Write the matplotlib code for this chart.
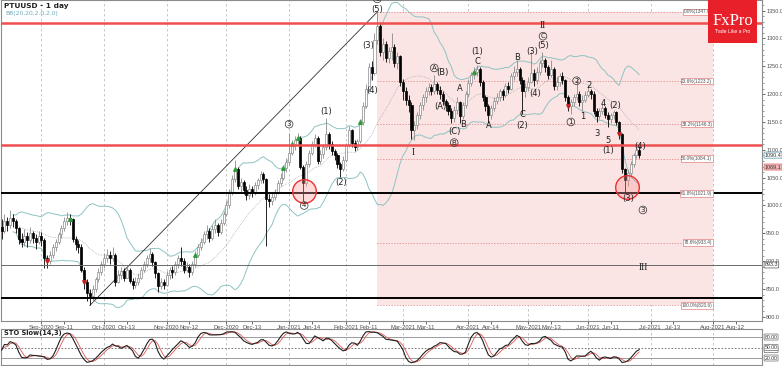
import matplotlib
matplotlib.use("Agg")
import matplotlib.pyplot as plt
import matplotlib.transforms as mtransforms
from matplotlib.patches import Rectangle
import numpy as np
import pandas as pd

# PTUUSD daily bars, 12 Aug 2020 .. 25 Jun 2021
closes = [955, 972, 965, 978, 972, 960, 940, 935, 945, 938, 950, 942, 935, 945, 938,
          905, 900, 912, 925, 935, 948, 960, 972, 978, 975, 940, 930, 925, 885, 862, 842, 838,
          850, 868, 880, 895, 905, 912, 905, 912, 862,
          875, 882, 870, 885, 865, 858, 862, 870, 885, 895, 905, 913,
          898, 878, 855, 862, 858, 875, 885, 880, 895, 905, 900, 885, 890, 880, 895, 912,
          925, 935, 948, 955, 942, 958, 965, 952, 968, 985, 1000, 1022, 1048, 1065, 1035, 1042,
          1028, 1018, 1030, 1022, 1036, 1045, 1056, 1048, 1012, 1008, 1015, 1025, 1040, 1050, 1068, 1078,
          1095, 1110, 1118, 1122, 1070, 1040, 1075, 1095, 1110, 1122, 1080, 1092, 1105, 1128, 1110, 1098,
          1090, 1074, 1065, 1082, 1108, 1135, 1112, 1105, 1115, 1150, 1178, 1210, 1248, 1238, 1298, 1322,
          1275, 1290, 1265, 1278, 1285, 1255, 1268, 1222, 1205, 1190, 1180, 1135, 1145, 1162,
          1180, 1195, 1205, 1212, 1205, 1218, 1208, 1200, 1188, 1180, 1170, 1158, 1172, 1185,
          1160, 1180, 1200, 1220, 1235, 1240, 1245, 1222, 1195, 1178, 1162, 1175, 1188, 1195, 1205,
          1198, 1215, 1210, 1232, 1240, 1245, 1225, 1205, 1212, 1222, 1238, 1225, 1240, 1255, 1262,
          1248, 1235, 1245, 1215, 1222, 1232, 1225, 1195, 1178, 1185, 1195, 1200, 1185, 1190, 1198, 1205, 1200,
          1170, 1160, 1170, 1175, 1162, 1155, 1162, 1168, 1150, 1128, 1065, 1045, 1058, 1075, 1090, 1100, 1090]
highs = [975, 985, 980, 992, 985, 975, 962, 950, 958, 952, 962, 955, 948, 955, 952,
         942, 912, 918, 930, 940, 952, 965, 980, 988, 985, 978, 945, 938, 930, 890, 868, 850,
         858, 872, 888, 900, 915, 922, 918, 925, 915,
         885, 890, 888, 892, 888, 870, 872, 878, 890, 900, 912, 924,
         916, 900, 880, 870, 868, 882, 890, 892, 900, 912, 925, 905, 898, 895, 900, 918,
         930, 942, 955, 965, 960, 965, 975, 968, 975, 990, 1008, 1030, 1055, 1082, 1070, 1050,
         1046, 1035, 1038, 1035, 1042, 1050, 1062, 1060, 1050, 1020, 1022, 1030, 1045, 1058, 1072, 1085,
         1130, 1118, 1125, 1130, 1125, 1072, 1080, 1100, 1115, 1128, 1125, 1100, 1110, 1157, 1132, 1115,
         1102, 1095, 1078, 1088, 1112, 1142, 1138, 1118, 1120, 1155, 1185, 1218, 1255, 1260, 1310, 1347.6,
         1330, 1300, 1295, 1285, 1310, 1290, 1275, 1270, 1228, 1212, 1198, 1185, 1152, 1168,
         1185, 1200, 1212, 1220, 1218, 1234, 1222, 1215, 1205, 1192, 1185, 1175, 1178, 1195,
         1188, 1185, 1205, 1228, 1240, 1248, 1252, 1248, 1225, 1198, 1182, 1180, 1195, 1202, 1210,
         1210, 1220, 1222, 1238, 1250, 1262, 1248, 1230, 1220, 1230, 1275, 1245, 1248, 1262, 1275,
         1265, 1252, 1261, 1248, 1230, 1238, 1240, 1228, 1198, 1192, 1200, 1229, 1205, 1198, 1205, 1216, 1210,
         1205, 1175, 1175, 1184, 1178, 1168, 1166, 1172, 1170, 1152, 1130, 1068, 1065, 1080, 1095, 1106, 1108]
lows = [940, 950, 955, 960, 962, 950, 930, 925, 928, 925, 932, 932, 922, 930, 928,
        888, 888, 895, 905, 918, 930, 942, 955, 965, 965, 935, 920, 915, 880, 850, 828, 820.6,
        828, 845, 862, 875, 888, 898, 895, 900, 855,
        860, 868, 865, 870, 860, 850, 852, 858, 868, 880, 890, 898,
        892, 870, 845, 850, 850, 855, 868, 870, 875, 888, 892, 878, 880, 872, 875, 890,
        908, 920, 930, 940, 935, 938, 950, 945, 948, 965, 982, 995, 1018, 1042, 1030, 1025,
        1020, 1010, 1012, 1015, 1018, 1030, 1040, 1040, 928, 998, 1000, 1010, 1020, 1035, 1045, 1060,
        1072, 1090, 1100, 1108, 1065, 1008, 1035, 1070, 1090, 1105, 1075, 1075, 1085, 1100, 1102, 1090,
        1082, 1068, 1051, 1062, 1078, 1105, 1105, 1098, 1100, 1112, 1145, 1175, 1205, 1225, 1235, 1290,
        1268, 1262, 1258, 1255, 1262, 1248, 1245, 1215, 1190, 1180, 1168, 1120, 1118, 1138,
        1155, 1172, 1185, 1198, 1198, 1200, 1200, 1192, 1180, 1170, 1162, 1148, 1150, 1165,
        1148, 1155, 1175, 1195, 1215, 1228, 1232, 1215, 1188, 1170, 1148, 1155, 1170, 1182, 1188,
        1190, 1195, 1202, 1208, 1225, 1232, 1218, 1165, 1195, 1205, 1220, 1215, 1218, 1235, 1248,
        1240, 1228, 1230, 1208, 1208, 1215, 1218, 1188, 1170, 1165, 1178, 1190, 1178, 1170, 1185, 1195, 1192,
        1165, 1150, 1155, 1165, 1158, 1141, 1148, 1155, 1145, 1120, 1058, 1022, 1035, 1052, 1070, 1085, 1086]
first_open = 962

holidays = ["2020-12-25", "2021-01-01", "2021-04-02"]
month_starts = ["2020-09-01", "2020-10-01", "2020-11-01", "2020-12-01", "2021-01-01", "2021-02-01",
                "2021-03-01", "2021-04-01", "2021-05-01", "2021-06-01", "2021-07-01", "2021-08-01"]
mid_month = ["2020-09-11", "2020-10-13", "2020-11-12", "2020-12-13", "2021-01-14", "2021-02-11",
             "2021-03-11", "2021-04-14", "2021-05-13", "2021-06-11", "2021-07-13", "2021-08-12"]

red_levels = [1328, 1108.7]
black_levels = [1022.5, 834.6]
grey_level = 893.3

fib_top, fib_bottom = 1347.6, 820.6
fib_ratios = [0.0, 23.6, 38.2, 50.0, 61.8, 78.6, 100.0]
fib_end_date = "2021-08-02"

# Elliott wave marks: text, bar, price, style (c = circled, r = roman)
waves = [("5", 132, 1371, "c"), ("(5)", 132, 1352, ""), ("(3)", 128.8, 1287, ""), ("(4)", 130.2, 1207, ""),
         ("3", 101, 1146, "c"), ("(1)", 114, 1168, ""), ("(2)", 119.3, 1042, ""), ("4", 106.3, 1000, "c"),
         ("I", 144.6, 1096, "r"), ("A", 152, 1247, "c"), ("(B)", 154.7, 1238, ""), ("(A)", 154, 1177, ""),
         ("(C)", 159, 1132, ""), ("B", 159, 1113, "c"), ("A", 161, 1210, ""), ("B", 162, 1145, ""),
         ("C", 167, 1258, ""), ("(1)", 167, 1276, ""), ("A", 171, 1143, ""), ("B", 181, 1265, ""),
         ("C", 183, 1163, ""), ("(2)", 183, 1143, ""), ("(3)", 186.3, 1276, ""), ("(4)", 187.4, 1202, ""),
         ("(5)", 190.2, 1287, ""), ("C", 190.2, 1304, "c"), ("II", 190.2, 1323, "r"),
         ("2", 202, 1224, "c"), ("1", 200, 1150, "c"), ("2", 206.3, 1216, ""), ("1", 204.2, 1159, ""),
         ("4", 211.2, 1184, ""), ("3", 209, 1130, ""), ("(2)", 215.4, 1179, ""), ("5", 213, 1116, ""),
         ("(1)", 213, 1098, ""), ("(4)", 224.2, 1106, ""), ("(3)", 220, 1012, ""), ("3", 225.3, 992, "c"),
         ("III", 225.3, 888, "r")]
circles = [(106.3, 1026), (219.6, 1033)]
up_arrows = [24, 68, 82, 99, 102, 104, 126, 166]
down_arrows = [16, 29, 199, 217]
price_tags = [("1090.4", 1090.4, "white", "#6aa9b8"), ("1069.1", 1069.1, "#f2b6b6", "#e08080"),
              ("893.3", 893.3, "white", "#707070")]

# ---------------------------------------------------------------
days = pd.bdate_range("2020-08-12", "2021-08-31")
days = days[~days.isin(pd.to_datetime(holidays))]
c = np.array(closes, float)
h = np.array(highs, float)
l = np.array(lows, float)
n = len(c)
x = np.arange(n)
o = np.r_[first_open, c[:-1]]

def bar_of(d):
    return int(days.searchsorted(pd.Timestamp(d)))

AXF = "Liberation Sans"

fig = plt.figure(figsize=(7.82, 3.66), dpi=100)
W, H = 782, 366
ax = fig.add_axes([0.6 / W, 45 / H, 761 / W, 321 / H])
sto = fig.add_axes([0.6 / W, 1 / H, 761 / W, 36 / H])

xmin, xmax = -0.35, 267.0
ax.set_xlim(xmin, xmax)
ax.set_ylim(792.6, 1369)
sto.set_xlim(xmin, xmax)
sto.set_ylim(0, 103)

for a in (ax, sto):
    for s in a.spines.values():
        s.set_color("#8c8c8c")
        s.set_linewidth(0.8)
    for d in month_starts:
        a.axvline(bar_of(d), color="#bdbdbd", lw=0.6, ls=(0, (3, 3)), zorder=0)

# fibonacci box
fib_start = int(np.argmax(h))
fib_end = bar_of(fib_end_date)
ax.add_patch(Rectangle((fib_start, fib_bottom), fib_end - fib_start, fib_top - fib_bottom,
                       facecolor="#fbe4e4", edgecolor="none", zorder=0))
for r in fib_ratios:
    lv = fib_top - (fib_top - fib_bottom) * r / 100
    ax.plot([fib_start, fib_end], [lv, lv], color="#e07c7c", lw=0.5, ls=(0, (2, 2)), zorder=1)
    ax.text(fib_end - 0.3, lv, f"{r:.1f}%({lv:.1f})", fontsize=3.4, family=AXF, ha="right",
            va="center", color="#505050", zorder=6,
            bbox=dict(boxstyle="square,pad=0.15", fc="white", ec="#e08080", lw=0.5))

# bollinger bands (20, 2.0)
cs = pd.Series(c)
mid = cs.rolling(20, min_periods=5).mean()
sd = cs.rolling(20, min_periods=5).std(ddof=0)
ax.plot(x, mid, color="#9a9a9a", lw=0.5, ls=(0, (1, 1.5)), zorder=2)
ax.plot(x, mid + 2 * sd, color="#8ec3c3", lw=0.7, zorder=2)
ax.plot(x, mid - 2 * sd, color="#8ec3c3", lw=0.7, zorder=2)

# trend line from the low to the high
i_lo, i_hi = int(np.argmin(l)), int(np.argmax(h))
ax.plot([i_lo, i_hi], [l[i_lo], h[i_hi]], color="#303030", lw=0.6, zorder=2)

# candles
up = c >= o
wick_cols = ["#8a8a8a" if u else "black" for u in up]
ax.vlines(x, l, h, colors=wick_cols, lw=0.6, zorder=3)
ax.bar(x[up], np.maximum(c - o, 0.8)[up], bottom=o[up], width=0.72, color="white",
       edgecolor="#8a8a8a", lw=0.5, zorder=4)
ax.bar(x[~up], (o - c)[~up], bottom=c[~up], width=0.72, color="black",
       edgecolor="black", lw=0.5, zorder=4)
ax.plot(up_arrows, c[up_arrows], ls="none", marker="^", ms=2.6, color="#2e9a3a", zorder=5)
ax.plot(down_arrows, c[down_arrows], ls="none", marker="v", ms=2.6, color="#c02020", zorder=5)

# horizontal levels
for lv in red_levels:
    ax.axhline(lv, color="#ef4f4f", lw=1.8, zorder=5)
for lv in black_levels:
    ax.axhline(lv, color="black", lw=1.4, zorder=5)
ax.axhline(grey_level, color="#6a6a6a", lw=0.7, zorder=5)

for bx, py in circles:
    ax.plot(bx, py, marker="o", ms=17, mfc=(1, 0.6, 0.6, 0.35), mec="#ee3030", mew=1.0, zorder=6)

# wave labels
for t, bx, py, st in waves:
    if st == "c":
        ax.text(bx, py, t, fontsize=5, ha="center", va="center", color="#202020", zorder=7,
                clip_on=True, bbox=dict(boxstyle="circle,pad=0.12", fc="none", ec="#303030", lw=0.5))
    elif st == "r":
        ax.text(bx, py, t, fontsize=7, ha="center", va="center", color="#202020", zorder=7,
                family="Liberation Serif")
    else:
        ax.text(bx, py, t, fontsize=6, ha="center", va="center", color="#202020", zorder=7)

# axes ticks
ax.yaxis.tick_right()
ax.set_yticks(np.arange(800, 1351, 50))
ax.set_yticklabels([f"{v:.1f}" for v in np.arange(800, 1351, 50)], family=AXF)
ax.set_yticks(np.arange(800, 1365, 10), minor=True)
ax.tick_params(axis="y", which="major", labelsize=4.0, length=2.5, width=0.6, pad=0.8,
               colors="#505050")
ax.tick_params(axis="y", which="minor", length=1.2, width=0.5, colors="#707070")

tick_pos, tick_lab = [], []
for d0, d1 in zip(month_starts, mid_month):
    tick_pos += [bar_of(d0), bar_of(d1)]
    tick_lab += [pd.Timestamp(d0).strftime("%b-%Y"), pd.Timestamp(d1).strftime("%b-%d")]
ax.set_xticks(tick_pos)
ax.set_xticklabels(tick_lab, family=AXF)
ax.tick_params(axis="x", labelsize=4.2, length=2, width=0.6, pad=1, colors="#505050")

trans = mtransforms.blended_transform_factory(ax.transAxes, ax.transData)
for t, py, fc, ec in price_tags:
    ax.text(1.004, py, t, transform=trans, fontsize=3.9, family=AXF, ha="left", va="center",
            color="#303030", zorder=8, clip_on=False,
            bbox=dict(boxstyle="round,pad=0.1", fc=fc, ec=ec, lw=0.6))

# stochastic slow (14, 3)
hs, ls_, cs2 = pd.Series(h), pd.Series(l), pd.Series(c)
ll = ls_.rolling(14, min_periods=1).min()
hh = hs.rolling(14, min_periods=1).max()
k = 100 * (cs2 - ll).rolling(3, min_periods=1).sum() / (hh - ll).rolling(3, min_periods=1).sum()
dline = k.rolling(3, min_periods=1).mean()
sto.plot(x, dline, color="#e05656", lw=0.6, zorder=3)
sto.plot(x, k, color="#202020", lw=0.8, zorder=4)
sto.axhline(80, color="#8c8c8c", lw=0.6)
sto.axhline(20, color="#8c8c8c", lw=0.6)
sto.axhline(50, color="#606060", lw=0.6, ls=(0, (2, 2)))
sto.set_xticks([])
sto.set_yticks([])
sto.text(0.004, 0.88, "STO Slow(14,3)", transform=sto.transAxes, fontsize=4.8, fontweight="bold",
         ha="left", va="center", color="#202020")
strans = mtransforms.blended_transform_factory(sto.transAxes, sto.transData)
for t, py in [("80.00", 80), ("20.00", 20), (f"{k.iloc[-1]:.2f}", k.iloc[-1]), ("50.00", 50)]:
    sto.text(1.004, py, t, transform=strans, fontsize=3.7, family=AXF, ha="left", va="center",
             color="#303030", clip_on=False,
             bbox=dict(boxstyle="round,pad=0.1", fc="white", ec="#707070", lw=0.5))

# header texts
fig.text(4 / W, 1 - 6 / H, "PTUUSD - 1 day", fontsize=5.3, fontweight="bold", ha="left", va="center",
         color="#202020")
fig.text(5 / W, 1 - 13.5 / H, "BB(20,20,2.0,2.0)", fontsize=4.3, ha="left", va="center", color="#6aa9b8")

# FxPro badge
fig.patches.append(Rectangle((708 / W, 1 - 43 / H), 49 / W, 43 / H, transform=fig.transFigure,
                             facecolor="#e8202a", edgecolor="none", zorder=10))
fig.text(732.5 / W, 1 - 21 / H, "FxPro", fontsize=12, family="Liberation Serif", color="white",
         ha="center", va="center", zorder=11)
fig.text(732.5 / W, 1 - 31.5 / H, "Trade Like a Pro", fontsize=3.3, color="white",
         ha="center", va="center", zorder=11)

fig.savefig("out.png", dpi=100)
